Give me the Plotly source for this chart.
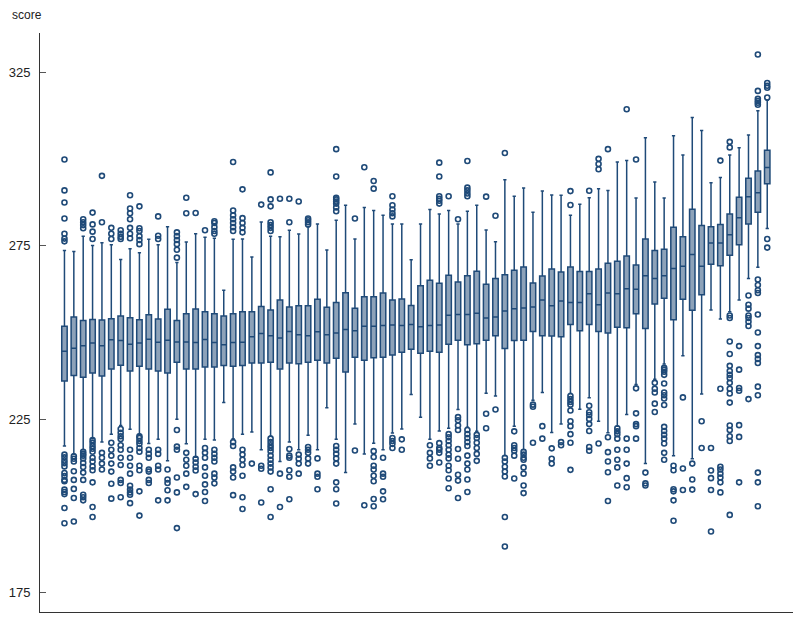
import plotly.graph_objects as go

# ---- data ----
group_idx = list(range(76))

lower_whisker = [217.3, 215.0, 216.2, 219.4, 218.4, 220.7, 223.2, 222.1, 220.7, 218.0,
                 219.2, 213.0, 225.0, 217.9, 214.0, 219.2, 219.0, 229.8, 219.4, 220.7,
                 221.3, 216.2, 220.1, 212.8, 218.4, 216.2, 220.4, 216.2, 228.3, 219.2,
                 209.6, 223.6, 215.0, 218.1, 216.2, 221.0, 222.2, 232.1, 225.6, 219.2,
                 221.6, 222.4, 227.8, 222.7, 221.5, 232.5, 231.7, 214.5, 223.0, 216.2,
                 230.5, 232.7, 221.2, 223.6, 232.4, 227.9, 231.2, 224.4, 221.1, 223.0,
                 226.4, 235.0, 212.2, 236.5, 240.9, 214.5, 243.3, 213.6, 232.3, 256.5,
                 253.9, 256.0, 259.4, 265.6, 268.8, 280.0]
q1 = [236.0, 237.6, 237.1, 238.3, 237.5, 239.5, 240.6, 238.9, 240.3, 239.5,
      238.9, 238.3, 241.4, 239.5, 239.5, 240.1, 240.1, 240.5, 240.3, 240.5,
      241.2, 241.2, 241.4, 239.5, 241.2, 241.0, 241.4, 242.0, 241.2, 242.6,
      238.6, 242.9, 242.0, 242.7, 242.9, 243.5, 244.3, 245.2, 244.0, 244.6,
      244.3, 246.6, 247.8, 246.5, 246.8, 247.8, 249.1, 245.4, 247.7, 247.8,
      250.3, 249.1, 249.0, 248.8, 252.3, 250.5, 252.3, 250.3, 249.9, 251.5,
      251.4, 255.4, 251.2, 258.2, 259.9, 253.7, 259.6, 256.4, 260.9, 269.7,
      269.3, 272.3, 275.3, 281.3, 284.7, 292.9]
median = [244.6, 245.5, 246.2, 247.0, 246.2, 247.9, 247.7, 246.6, 247.0, 248.1,
          247.2, 247.8, 247.3, 247.3, 247.1, 248.0, 247.1, 246.5, 247.1, 247.2,
          248.8, 249.7, 249.1, 248.4, 250.3, 249.4, 249.1, 250.2, 249.4, 249.9,
          250.9, 250.5, 251.8, 251.8, 252.0, 252.2, 252.0, 252.3, 251.7, 252.0,
          252.2, 255.0, 255.2, 255.2, 255.6, 254.2, 254.5, 256.2, 256.9, 257.1,
          257.4, 259.4, 257.7, 259.1, 258.7, 258.7, 261.2, 258.0, 261.4, 261.2,
          262.6, 262.5, 266.4, 265.6, 266.4, 268.5, 269.1, 272.5, 269.1, 275.8,
          275.8, 278.2, 283.1, 289.2, 290.3, 297.6]
q3 = [251.8, 254.5, 253.5, 253.8, 253.6, 254.0, 254.8, 254.3, 253.7, 255.1,
      253.9, 256.7, 253.5, 255.4, 256.8, 256.0, 255.4, 254.8, 255.4, 256.0,
      256.0, 257.5, 256.5, 259.4, 257.4, 257.7, 257.7, 259.6, 257.3, 258.7,
      261.5, 257.0, 260.3, 260.3, 261.4, 259.4, 259.7, 257.8, 263.5, 265.1,
      264.2, 266.5, 264.6, 266.4, 267.7, 263.9, 265.6, 266.7, 268.0, 268.9,
      264.3, 266.3, 268.3, 267.5, 268.9, 267.6, 267.6, 268.3, 270.0, 270.6,
      272.1, 269.5, 277.0, 273.7, 274.0, 280.4, 277.6, 285.6, 280.9, 280.5,
      281.2, 284.2, 289.0, 294.5, 296.6, 302.6]
upper_whisker = [273.7, 273.4, 277.8, 275.1, 275.9, 275.3, 271.1, 274.2, 273.0, 276.9,
                 275.3, 280.5, 270.2, 276.1, 278.5, 277.5, 277.2, 262.2, 276.9, 277.0,
                 271.8, 281.9, 277.8, 277.6, 279.5, 278.4, 280.5, 281.3, 273.8, 282.4,
                 286.7, 277.0, 286.1, 285.2, 283.8, 281.3, 281.3, 271.0, 281.3, 285.5,
                 284.2, 285.2, 281.3, 285.0, 286.7, 279.6, 276.2, 294.1, 289.3, 291.7,
                 284.7, 290.8, 289.7, 289.6, 283.8, 287.0, 288.9, 291.5, 291.0, 299.2,
                 299.6, 288.8, 306.2, 293.4, 288.8, 306.8, 301.2, 312.0, 308.3, 293.2,
                 294.7, 301.2, 303.3, 307.0, 314.0, 317.0]

outliers = [
    [299.9, 291.0, 287.5, 282.9, 278.5, 277.1, 276.3, 214.8, 214.0, 213.1, 212.3, 211.4, 209.5, 208.6, 207.5, 207.1, 204.7, 204.0, 203.4, 199.4, 195.0],
    [214.3, 213.6, 212.8, 210.0, 207.5, 204.9, 202.3, 195.5],
    [282.7, 281.8, 281.0, 280.1, 215.6, 215.0, 214.5, 213.7, 212.4, 211.2, 209.6, 207.5, 203.2, 202.5, 201.6],
    [284.6, 281.2, 279.1, 277.0, 219.0, 218.2, 217.3, 216.5, 215.6, 213.9, 212.8, 211.4, 210.3, 206.8, 199.7, 196.8],
    [295.2, 281.8, 215.3, 213.9, 212.2, 210.5],
    [280.2, 278.5, 277.0, 218.2, 216.2, 214.5, 212.2, 209.9, 206.4, 202.1],
    [279.5, 278.5, 277.6, 277.0, 222.2, 221.1, 220.1, 219.3, 217.5, 216.2, 213.9, 211.8, 207.5, 206.6, 202.5],
    [289.6, 285.8, 284.4, 282.7, 280.2, 278.5, 277.2, 216.2, 213.9, 211.6, 209.3, 205.8, 204.7, 203.9, 203.2, 200.8],
    [286.4, 280.1, 279.3, 277.8, 276.7, 275.5, 220.1, 219.6, 218.7, 217.9, 216.7, 215.6, 211.6, 210.3, 204.2, 197.2],
    [216.2, 215.0, 213.9, 210.5, 209.9, 207.5, 206.6],
    [283.5, 277.9, 277.0, 216.2, 215.0, 211.6, 210.5, 201.6],
    [210.5, 207.6, 206.6, 204.5, 201.6],
    [278.9, 277.8, 276.7, 275.5, 273.9, 271.6, 221.9, 217.1, 216.2, 208.2, 203.9, 193.6],
    [288.9, 284.4, 215.3, 213.3, 211.6, 209.3, 205.5],
    [284.5, 213.6, 212.5, 211.3, 210.2, 203.4],
    [279.5, 216.7, 215.3, 213.9, 211.1, 208.7, 206.2, 204.0, 201.4],
    [282.1, 281.6, 280.4, 279.3, 278.5, 216.2, 215.0, 213.9, 212.8, 209.3, 208.2, 206.5],
    [],
    [299.2, 285.2, 283.8, 282.7, 281.6, 280.4, 279.3, 218.4, 217.3, 211.1, 209.9, 208.2, 203.1],
    [291.3, 283.0, 281.6, 280.2, 278.9, 216.2, 214.8, 213.3, 211.8, 208.7, 202.5, 199.1],
    [212.2],
    [286.9, 211.6, 210.7, 201.0],
    [296.2, 288.4, 286.4, 281.8, 281.0, 280.2, 279.3, 219.4, 218.4, 217.5, 216.7, 215.8, 214.5, 213.3, 212.2, 211.1, 209.9, 204.8, 196.8],
    [288.6, 209.3, 199.7],
    [288.6, 281.8, 216.4, 214.5, 213.9, 210.3, 208.4, 201.9],
    [287.8, 214.8, 213.6, 212.2, 209.3],
    [282.9, 282.4, 281.8, 281.2, 217.0, 216.2, 215.3, 213.7, 212.2],
    [213.7, 209.3, 208.4, 204.8],
    [],
    [302.9, 295.0, 288.9, 288.4, 287.8, 287.2, 286.1, 285.0, 217.3, 216.2, 215.0, 213.7, 212.2, 206.8, 204.8, 200.7],
    [],
    [282.9, 216.0],
    [297.7, 200.2],
    [293.7, 291.5, 215.8, 214.1, 211.6, 210.5, 208.7, 207.1, 202.0, 199.9],
    [213.9, 209.3, 208.4, 204.2, 201.9],
    [289.3, 286.7, 285.5, 284.4, 283.5, 219.6, 218.7, 217.9, 216.7],
    [219.2, 216.2],
    [],
    [],
    [217.5, 215.3, 213.7, 211.6],
    [299.0, 295.0, 289.3, 288.6, 288.0, 287.2, 218.1, 216.7, 216.2, 215.3, 212.5],
    [289.3, 220.7, 219.8, 218.7, 217.5, 216.2, 214.8, 213.7, 211.6, 210.3, 207.9, 205.1],
    [282.7, 225.6, 224.7, 223.2, 221.9, 216.4, 213.6, 209.0, 207.3, 202.3],
    [299.5, 291.8, 291.0, 290.1, 289.3, 221.9, 220.7, 219.6, 218.4, 217.3, 214.5, 212.2, 210.5, 207.6, 204.0],
    [220.5, 219.6, 218.2, 216.7, 215.0, 213.0],
    [289.2, 226.6, 222.4],
    [283.7, 227.8],
    [301.8, 213.9, 212.8, 211.3, 209.9, 208.5, 196.8, 188.3],
    [221.5, 217.5, 216.7, 215.9, 214.5, 207.9],
    [215.6, 214.8, 213.9, 213.3, 211.1, 209.3, 205.9, 203.7],
    [229.2, 228.6, 218.2],
    [223.0, 219.4],
    [216.6, 213.6, 212.2],
    [218.4, 217.5],
    [290.8, 286.8, 231.7, 230.8, 230.0, 229.2, 227.5, 224.4, 223.0, 220.7, 218.2, 210.4],
    [],
    [290.9, 228.9, 227.0, 226.2, 225.1, 223.6, 221.6, 217.0, 215.9],
    [300.1, 298.6, 297.1, 218.0],
    [302.9, 219.8, 215.5, 212.8, 209.7, 201.4],
    [222.4, 221.5, 220.7, 219.4, 216.2, 213.3, 211.1, 205.9],
    [314.4, 219.4, 216.2, 212.2, 208.0, 205.4],
    [299.9, 233.9, 226.7, 223.6, 223.0, 219.4],
    [209.6, 206.5, 205.9],
    [235.5, 233.8, 232.7, 229.5, 227.1],
    [239.8, 239.3, 238.7, 237.8, 235.3, 232.7, 231.9, 231.0, 229.1, 222.8, 221.6, 220.5, 219.4, 218.0, 215.3, 213.3],
    [211.6, 210.3, 204.8, 204.2, 201.6, 195.7],
    [231.3, 210.8, 204.6],
    [212.2, 207.6, 204.7],
    [224.4, 216.7],
    [216.7, 210.2, 208.0, 204.6, 192.6],
    [299.6, 233.8, 211.3, 210.5, 209.3, 208.2, 206.8, 203.9],
    [305.0, 303.4, 254.9, 254.2, 247.4, 243.8, 240.4, 238.9, 237.8, 236.9, 235.5, 233.8, 232.4, 229.8, 223.2, 221.9, 220.1, 218.7, 197.4],
    [246.1, 239.3, 234.0, 233.2, 223.3, 219.9, 206.8],
    [260.7, 258.0, 256.9, 254.9, 254.2, 253.1, 251.9, 230.8],
    [330.2, 319.7, 317.4, 316.8, 316.3, 315.7, 265.3, 263.7, 262.2, 261.4, 255.2, 250.0, 246.1, 243.5, 242.4, 241.2, 234.4, 231.9, 209.6, 206.8, 199.9],
    [322.0, 321.2, 320.6, 317.8, 277.0, 274.5],
]

y_ticks = [175, 225, 275, 325]
y_title = "score"

# ---- styles ----
LINE = "#1f4a78"
FILL = "#8da2b9"

out_x, out_y = [], []
for g, vals in zip(group_idx, outliers):
    for v in vals:
        out_x.append(g)
        out_y.append(v)

fig = go.Figure()
fig.add_trace(go.Box(
    x=group_idx, q1=q1, median=median, q3=q3,
    lowerfence=lower_whisker, upperfence=upper_whisker,
    width=0.58, whiskerwidth=0.6,
    fillcolor=FILL, line=dict(color=LINE, width=1.5),
    boxpoints=False, showlegend=False, hoverinfo="skip",
))
fig.add_trace(go.Scatter(
    x=out_x, y=out_y, mode="markers", showlegend=False, hoverinfo="skip",
    marker=dict(symbol="circle-open", size=5, color=LINE, line=dict(width=1.6, color=LINE)),
))

fig.update_layout(
    width=800, height=619,
    margin=dict(l=40, r=7, t=33, b=7),
    plot_bgcolor="white", paper_bgcolor="white",
    font=dict(family="Liberation Sans, Arial, sans-serif", size=13, color="#222"),
    xaxis=dict(range=[-2.61, 77.75], showline=True, linecolor="#333", linewidth=1,
               showticklabels=False, ticks="", showgrid=False, zeroline=False),
    yaxis=dict(range=[169.4, 336.4], tickvals=y_ticks, ticks="inside", ticklen=6,
               tickcolor="#555", showline=True, linecolor="#333", linewidth=1,
               showgrid=False, zeroline=False, ticklabelstandoff=6,
               tickfont=dict(size=13, color="#222")),
    annotations=[dict(text=y_title, xref="paper", yref="paper",
                      x=(10 - 40) / 753, y=1 + (33 - 15) / 579,
                      xanchor="left", yanchor="middle", showarrow=False,
                      font=dict(size=12, color="#222"))],
)

fig.write_html("out.html", config={"displayModeBar": False},
               post_script="document.body.style.margin='0';document.body.style.overflow='hidden';")
